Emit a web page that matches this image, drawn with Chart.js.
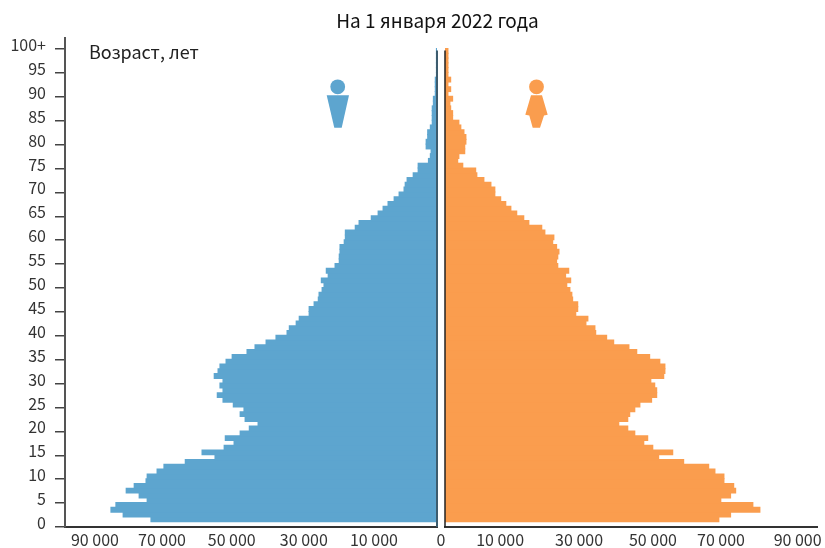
<!DOCTYPE html>
<html lang="ru">
<head>
<meta charset="utf-8">
<title>Половозрастная пирамида</title>
<script src="https://cdn.jsdelivr.net/npm/chart.js@4/dist/chart.umd.min.js"></script>
<style>
  html, body { margin: 0; padding: 0; background: #fff; }
  #page { position: relative; width: 825px; height: 548px; overflow: hidden; font-family: "Noto Sans CJK JP", "Noto Sans", sans-serif; }
  canvas { position: absolute; top: 0; }
  #grafico-hombres { left: 0; }
  #grafico-mujeres { left: 441px; }
  .texto { position: absolute; white-space: nowrap; font-size: 18px; line-height: 24px; }
  #titulo { left: 0; width: 875px; top: 8px; text-align: center; color: #111; font-size: 19px; }
  #eje { left: 89px; top: 39px; color: #222; }
  svg { position: absolute; left: 0; top: 0; }
</style>
</head>
<body>
<div id="page">
  <canvas id="grafico-hombres" width="450" height="548"></canvas>
  <canvas id="grafico-mujeres" width="384" height="548"></canvas>
  <div class="texto" id="titulo">На 1 января 2022 года</div>
  <div class="texto" id="eje">Возраст, лет</div>
  <svg width="825" height="548">
    <circle cx="337.7" cy="86.8" r="7.4" fill="#5da5cf"/>
    <polygon points="326.7,95.3 349,95.3 341.7,127.7 334.3,127.7" fill="#5da5cf"/>
    <circle cx="536.5" cy="86.8" r="7.4" fill="#fa9d4e"/>
    <polygon points="531,95.3 542,95.3 547.7,114.8 544,115.4 540,127.7 532.7,127.7 529.3,115.4 525.3,114.8" fill="#fa9d4e"/>
  </svg>
</div>
<script>
// Datos
const ages = [
  0, 1, 2, 3, 4, 5, 6, 7, 8, 9, 10, 11, 12, 13, 14, 15, 16, 17, 18, 19,
  20, 21, 22, 23, 24, 25, 26, 27, 28, 29, 30, 31, 32, 33, 34, 35, 36, 37, 38, 39,
  40, 41, 42, 43, 44, 45, 46, 47, 48, 49, 50, 51, 52, 53, 54, 55, 56, 57, 58, 59,
  60, 61, 62, 63, 64, 65, 66, 67, 68, 69, 70, 71, 72, 73, 74, 75, 76, 77, 78, 79,
  80, 81, 82, 83, 84, 85, 86, 87, 88, 89, 90, 91, 92, 93, 94, 95, 96, 97, 98,
];
const males = [
  75100, 82400, 85600, 84300, 76100, 78200, 81600, 79500, 76400, 76100,
  73500, 71700, 66100, 58300, 61700, 55900, 53300, 55600, 51700, 49300,
  47000, 50400, 51700, 50700, 53500, 56200, 57700, 56200, 57000, 56200,
  58500, 57500, 57000, 55400, 53800, 49900, 47800, 44900, 42300, 39400,
  38800, 37000, 36200, 33600, 33600, 32300, 31200, 31000, 30200, 29700,
  30400, 28600, 29100, 26800, 25700, 25700, 25500, 25500, 24400, 24100,
  24100, 21500, 20500, 17300, 15500, 14200, 12900, 11300, 10000, 8700,
  8400, 7900, 6300, 5000, 5000, 2300, 1800, 1600, 2900, 2900,
  2500, 2500, 1800, 1300, 1300, 1300, 1300, 1000, 1000, 500,
  500, 500, 500, 200, 200, 200, 200, 200, 200,
];
const females = [
  70100, 73100, 80600, 78800, 70600, 73100, 74400, 73900, 71400, 71400,
  69100, 67500, 61100, 54700, 58300, 53200, 50900, 51900, 48600, 46800,
  44500, 46800, 47300, 48600, 49900, 52900, 54200, 54200, 53700, 52700,
  56000, 56300, 56300, 55000, 52400, 49100, 47100, 43200, 41400, 38600,
  38400, 36100, 36600, 33500, 34000, 34000, 32700, 32500, 32000, 31200,
  32200, 30900, 31700, 28900, 28600, 28900, 29200, 28600, 27600, 27900,
  25600, 24800, 21500, 20200, 18400, 16900, 15600, 14300, 12800, 12800,
  11800, 10000, 8200, 7900, 4600, 3300, 3600, 5100, 5100, 5400,
  5400, 4900, 4100, 3600, 2000, 2000, 1500, 1300, 2000, 800,
  1500, 800, 1500, 800, 800, 800, 800, 800, 800,
];
const xLabelsLeft = ["0", "10 000", "30 000", "50 000", "70 000", "90 000"];
const xLabelsRight = ["10 000", "30 000", "50 000", "70 000", "90 000"];
// donde caen las etiquetas en la imagen, en unidades del eje
const xTicksLeft = [0, 17600, 36000, 54900, 73200, 90800];
const xTicksRight = [14100, 34300, 53200, 70600, 90200];

const AZUL = "#5da5cf";
const NARANJA = "#fa9d4e";
const TEXTO = "#333";
const FUENTE = { family: '"Noto Sans CJK JP", "Noto Sans", sans-serif', size: 16 };
const Y_MAX = 102.3; // hasta arriba del eje izquierdo
const ROW_SHIFT = 1.6; // las barras estan por encima de las marcas
const LINE_TOP = 99.7; // donde empiezan las lineas centrales

// Linea del cero de cada mitad
const zeroLine = {
  id: "zeroLine",
  afterDatasetsDraw(chart, args, opts) {
    const { ctx, scales } = chart;
    const x = scales.x.getPixelForValue(0);
    ctx.save();
    ctx.strokeStyle = opts.color;
    ctx.lineWidth = opts.width;
    ctx.beginPath();
    ctx.moveTo(x, scales.y.getPixelForValue(LINE_TOP));
    ctx.lineTo(x, scales.y.getPixelForValue(0));
    ctx.stroke();
    ctx.restore();
  },
};

const buildOptions = (cfg) => ({
  indexAxis: "y",
  responsive: false,
  animation: false,
  layout: { padding: { top: 38, left: cfg.padLeft, right: cfg.padRight, bottom: 0 } },
  plugins: {
    legend: { display: false },
    tooltip: { enabled: false },
    zeroLine: { color: cfg.lineColor, width: cfg.lineWidth },
  },
  datasets: { bar: { barThickness: 5.2, borderWidth: 0 } },
  scales: {
    x: {
      type: "linear",
      reverse: cfg.reverse,
      min: 0,
      max: cfg.xMax,
      grid: { display: false, drawTicks: false },
      border: { display: true, color: "#333", width: 2 },
      afterBuildTicks: (scale) => { scale.ticks = cfg.ticks.map((v) => ({ value: v })); },
      afterFit: (scale) => { scale.height = 21; },
      ticks: {
        autoSkip: false,
        maxRotation: 0,
        padding: 3,
        labelOffset: cfg.labelOffset,
        color: TEXTO,
        font: FUENTE,
        callback: (value, i) => cfg.labels[i],
      },
    },
    y: {
      type: "linear",
      display: cfg.showY,
      offset: false,
      min: 0,
      max: Y_MAX,
      grid: { offset: false, drawOnChartArea: false, tickLength: 10, color: "#444", lineWidth: 1.5 },
      border: { color: "#555", width: 2 },
      afterFit: (scale) => { if (cfg.showY) scale.width = 65; },
      ticks: {
        stepSize: 5,
        includeBounds: false,
        padding: 9,
        labelOffset: -4,
        color: TEXTO,
        font: FUENTE,
        callback: (v) => (v === 100 ? "100+" : v),
      },
    },
  },
});

new Chart(document.getElementById("grafico-hombres"), {
  type: "bar",
  plugins: [zeroLine],
  data: {
    datasets: [{
      label: "Мужчины",
      backgroundColor: AZUL,
      data: ages.map((a, i) => ({ x: males[i], y: a + ROW_SHIFT })),
    }],
  },
  options: buildOptions({
    reverse: true, xMax: 97600, ticks: xTicksLeft, labels: xLabelsLeft, labelOffset: 4,
    showY: true, padLeft: 0, padRight: 13, lineColor: "#3d5c6e", lineWidth: 2,
  }),
});

new Chart(document.getElementById("grafico-mujeres"), {
  type: "bar",
  plugins: [zeroLine],
  data: {
    datasets: [{
      label: "Женщины",
      backgroundColor: NARANJA,
      data: ages.map((a, i) => ({ x: females[i], y: a + ROW_SHIFT })),
    }],
  },
  options: buildOptions({
    reverse: false, xMax: 95400, ticks: xTicksRight, labels: xLabelsRight, labelOffset: 0,
    showY: false, padLeft: 4, padRight: 7, lineColor: "#222", lineWidth: 1.5,
  }),
});
</script>
</body>
</html>
